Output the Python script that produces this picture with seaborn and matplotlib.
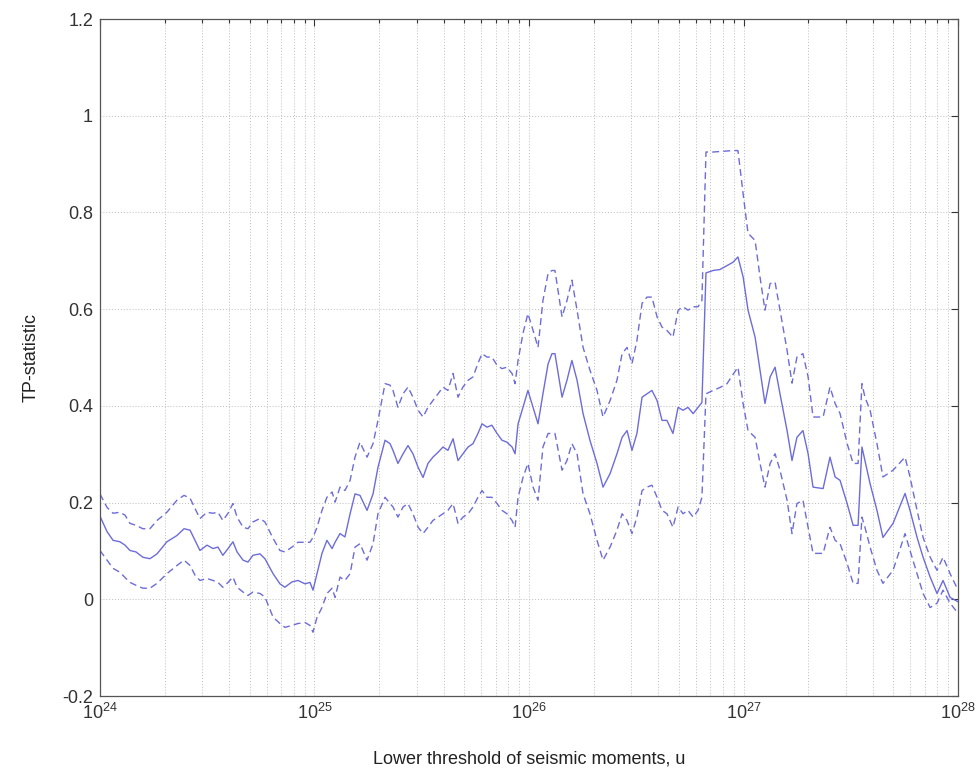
import numpy as np
import pandas as pd
import matplotlib
matplotlib.use("Agg")
import matplotlib.pyplot as plt
import seaborn as sns
from matplotlib.ticker import LogLocator, LogFormatterMathtext, NullFormatter

# Threshold exponents: u = 10**log_u
log_u = [
    24.000, 24.033, 24.061, 24.093, 24.117, 24.140, 24.168, 24.200, 24.233, 24.266,
    24.312, 24.359, 24.392, 24.420, 24.443, 24.466, 24.499, 24.527, 24.550, 24.573,
    24.597, 24.620, 24.639, 24.667, 24.690, 24.713, 24.746, 24.769, 24.807, 24.839,
    24.862, 24.895, 24.923, 24.956, 24.979, 24.993,
    25.012, 25.035, 25.058, 25.082, 25.096, 25.119, 25.142, 25.166, 25.189, 25.212,
    25.245, 25.273, 25.296, 25.329, 25.352, 25.366, 25.389, 25.413, 25.436, 25.459,
    25.483, 25.506, 25.529, 25.552, 25.576, 25.599, 25.622, 25.646, 25.669, 25.692,
    25.716, 25.739, 25.762, 25.781, 25.804, 25.827, 25.851, 25.874, 25.897, 25.921,
    25.935, 25.949, 25.972, 25.995,
    26.019, 26.042, 26.065, 26.089, 26.107, 26.121, 26.154, 26.177, 26.200, 26.224,
    26.252, 26.284, 26.317, 26.345, 26.378, 26.410, 26.434, 26.457, 26.480, 26.503,
    26.527, 26.550, 26.573, 26.597, 26.620, 26.643, 26.671, 26.695, 26.718, 26.741,
    26.765, 26.788,
    26.806, 26.825, 26.858, 26.890, 26.923, 26.951,
    26.974, 26.998, 27.021, 27.054, 27.077, 27.100, 27.124, 27.147, 27.170, 27.203,
    27.226, 27.249, 27.277, 27.301, 27.324, 27.371, 27.403, 27.427, 27.450, 27.483,
    27.511, 27.534, 27.552, 27.566, 27.590, 27.622, 27.650, 27.697, 27.753, 27.776,
    27.809, 27.837, 27.870, 27.902, 27.930, 27.963, 28.000,
]

# TP-statistic estimate
tp_mid = [
    0.172, 0.140, 0.122, 0.119, 0.112, 0.101, 0.098, 0.087, 0.084, 0.094,
    0.119, 0.132, 0.146, 0.143, 0.122, 0.101, 0.112, 0.105, 0.108, 0.091,
    0.105, 0.119, 0.098, 0.081, 0.077, 0.091, 0.094, 0.084, 0.053, 0.032,
    0.025, 0.036, 0.039, 0.032, 0.035, 0.019,
    0.053, 0.095, 0.122, 0.105, 0.118, 0.136, 0.129, 0.177, 0.218, 0.215,
    0.184, 0.218, 0.273, 0.329, 0.322, 0.308, 0.281, 0.301, 0.318, 0.301,
    0.273, 0.252, 0.281, 0.294, 0.304, 0.315, 0.308, 0.332, 0.287, 0.301,
    0.315, 0.322, 0.343, 0.363, 0.356, 0.360, 0.343, 0.329, 0.325, 0.315,
    0.301, 0.363, 0.397, 0.432,
    0.397, 0.363, 0.425, 0.487, 0.508, 0.508, 0.418, 0.453, 0.494, 0.453,
    0.384, 0.329, 0.281, 0.232, 0.260, 0.301, 0.335, 0.349, 0.308, 0.343,
    0.418, 0.425, 0.432, 0.411, 0.370, 0.370, 0.343, 0.397, 0.391, 0.397,
    0.384, 0.397,
    0.407, 0.675, 0.680, 0.682, 0.690, 0.697,
    0.708, 0.667, 0.598, 0.542, 0.474, 0.405, 0.460, 0.480, 0.425, 0.349,
    0.287, 0.335, 0.349, 0.301, 0.232, 0.229, 0.294, 0.253, 0.246, 0.198,
    0.153, 0.153, 0.315, 0.287, 0.239, 0.184, 0.128, 0.157, 0.219, 0.184,
    0.128, 0.087, 0.046, 0.012, 0.039, 0.004, -0.005,
]

# Upper confidence bound
tp_upper = [
    0.218, 0.190, 0.178, 0.180, 0.174, 0.157, 0.153, 0.146, 0.146, 0.163,
    0.180, 0.205, 0.215, 0.209, 0.188, 0.167, 0.180, 0.178, 0.180, 0.163,
    0.178, 0.198, 0.170, 0.149, 0.146, 0.160, 0.167, 0.160, 0.126, 0.101,
    0.098, 0.108, 0.118, 0.118, 0.118, 0.128,
    0.149, 0.184, 0.211, 0.222, 0.201, 0.232, 0.225, 0.246, 0.294, 0.325,
    0.294, 0.322, 0.370, 0.446, 0.443, 0.432, 0.397, 0.425, 0.439, 0.418,
    0.391, 0.377, 0.397, 0.411, 0.425, 0.439, 0.432, 0.467, 0.418, 0.439,
    0.453, 0.460, 0.488, 0.508, 0.501, 0.501, 0.484, 0.477, 0.480, 0.467,
    0.446, 0.494, 0.550, 0.591,
    0.556, 0.521, 0.618, 0.674, 0.680, 0.680, 0.584, 0.618, 0.660, 0.598,
    0.521, 0.474, 0.432, 0.377, 0.411, 0.453, 0.508, 0.521, 0.487, 0.535,
    0.612, 0.625, 0.625, 0.584, 0.563, 0.556, 0.542, 0.598, 0.605, 0.598,
    0.605, 0.605,
    0.618, 0.925, 0.925, 0.926, 0.927, 0.928,
    0.928, 0.839, 0.757, 0.742, 0.666, 0.598, 0.653, 0.656, 0.598, 0.515,
    0.447, 0.501, 0.508, 0.460, 0.377, 0.377, 0.439, 0.405, 0.384, 0.322,
    0.281, 0.281, 0.446, 0.418, 0.391, 0.322, 0.253, 0.267, 0.294, 0.253,
    0.184, 0.128, 0.087, 0.060, 0.087, 0.053, 0.019,
]

# Lower confidence bound
tp_lower = [
    0.101, 0.081, 0.064, 0.056, 0.045, 0.035, 0.029, 0.023, 0.023, 0.033,
    0.053, 0.070, 0.081, 0.070, 0.050, 0.039, 0.043, 0.039, 0.035, 0.025,
    0.035, 0.046, 0.025, 0.015, 0.008, 0.015, 0.012, 0.005, -0.037, -0.050,
    -0.058, -0.054, -0.050, -0.048, -0.054, -0.068,
    -0.037, -0.017, 0.012, 0.023, 0.004, 0.046, 0.039, 0.053, 0.108, 0.115,
    0.081, 0.115, 0.177, 0.211, 0.198, 0.191, 0.170, 0.191, 0.198, 0.177,
    0.149, 0.136, 0.149, 0.163, 0.170, 0.177, 0.184, 0.198, 0.157, 0.170,
    0.177, 0.191, 0.211, 0.225, 0.211, 0.211, 0.198, 0.184, 0.177, 0.163,
    0.149, 0.211, 0.252, 0.281,
    0.232, 0.205, 0.315, 0.343, 0.343, 0.343, 0.267, 0.287, 0.322, 0.301,
    0.218, 0.177, 0.122, 0.081, 0.108, 0.143, 0.177, 0.163, 0.136, 0.170,
    0.225, 0.232, 0.236, 0.211, 0.184, 0.177, 0.149, 0.191, 0.177, 0.184,
    0.170, 0.184,
    0.211, 0.425, 0.432, 0.438, 0.446, 0.465,
    0.480, 0.405, 0.349, 0.335, 0.281, 0.232, 0.281, 0.301, 0.267, 0.205,
    0.136, 0.198, 0.205, 0.149, 0.095, 0.095, 0.149, 0.122, 0.115, 0.074,
    0.033, 0.033, 0.170, 0.149, 0.108, 0.060, 0.033, 0.060, 0.136, 0.101,
    0.053, 0.012, -0.017, -0.008, 0.019, -0.008, -0.029,
]

y_ticks = [-0.2, 0.0, 0.2, 0.4, 0.6, 0.8, 1.0, 1.2]
y_tick_labels = ["-0.2", "0", "0.2", "0.4", "0.6", "0.8", "1", "1.2"]

df = pd.DataFrame({
    "u": 10.0 ** np.array(log_u),
    "mid": tp_mid,
    "upper": tp_upper,
    "lower": tp_lower,
})

sns.set_style("white")
plt.rcParams["font.family"] = ["Liberation Sans", "DejaVu Sans"]
plt.rcParams["mathtext.fontset"] = "custom"
plt.rcParams["mathtext.rm"] = "Liberation Sans"
plt.rcParams["mathtext.it"] = "Liberation Sans"

fig = plt.figure(figsize=(9.8, 7.77), dpi=100)
ax = fig.add_axes([0.102, 0.1042, 0.8756, 0.8713])

line_color = "#6c6cda"
dash = (0, (5, 3))
sns.lineplot(data=df, x="u", y="mid", ax=ax, color=line_color, lw=1.0,
             estimator=None, sort=False)
sns.lineplot(data=df, x="u", y="upper", ax=ax, color=line_color, lw=1.0,
             estimator=None, sort=False, linestyle=dash)
sns.lineplot(data=df, x="u", y="lower", ax=ax, color=line_color, lw=1.0,
             estimator=None, sort=False, linestyle=dash)

ax.set_xscale("log")
ax.set_xlim(1e24, 1e28)
ax.set_ylim(-0.2, 1.2)
ax.xaxis.set_major_locator(LogLocator(base=10, numticks=10))
ax.xaxis.set_major_formatter(LogFormatterMathtext())
ax.xaxis.set_minor_locator(LogLocator(base=10, subs=np.arange(2, 10), numticks=50))
ax.xaxis.set_minor_formatter(NullFormatter())
ax.set_yticks(y_ticks)
ax.set_yticklabels(y_tick_labels)

grid_kw = dict(color="#bdbdbd", linestyle=(0, (1, 2)), linewidth=0.7)
ax.grid(True, which="major", axis="both", **grid_kw)
ax.grid(True, which="minor", axis="x", **grid_kw)
ax.set_axisbelow(True)

ax.tick_params(which="both", direction="in", top=True, right=True,
               labelsize=13, colors="#333333", width=0.8)
ax.tick_params(which="major", length=5, pad=5)
ax.tick_params(which="minor", length=3)
for s in ax.spines.values():
    s.set_color("#555555")
    s.set_linewidth(0.9)

ax.set_xlabel("Lower threshold of seismic moments, u", fontsize=13,
              color="#222222", labelpad=20)
ax.set_ylabel("TP-statistic", fontsize=13, color="#222222", labelpad=16)

fig.savefig("out.png", dpi=100, facecolor="white")
